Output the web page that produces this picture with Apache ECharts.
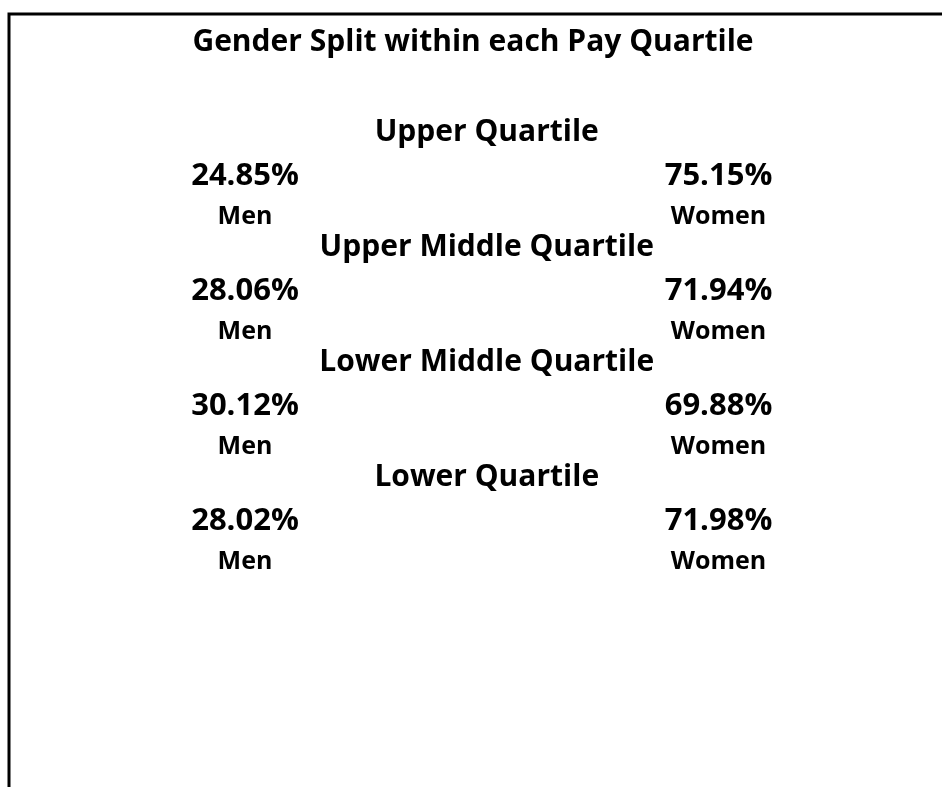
<!DOCTYPE html>
<html>
<head>
<meta charset="utf-8">
<script src="https://cdn.jsdelivr.net/npm/echarts@6/dist/echarts.min.js"></script>
<style>
html,body{margin:0;padding:0;background:#fff;}
#chart{width:942px;height:787px;}
</style>
</head>
<body>
<div id="chart"></div>
<script>
const chartTitle = 'Gender Split within each Pay Quartile';
const quartiles = ['Upper Quartile', 'Upper Middle Quartile', 'Lower Middle Quartile', 'Lower Quartile'];
const menPct = [24.85, 28.06, 30.12, 28.02];
const womenPct = [75.15, 71.94, 69.88, 71.98];
const groupNames = ['Men', 'Women'];

const FONT = '"Open Sans"';

const chart = echarts.init(document.getElementById('chart'), null, {renderer: 'canvas'});

function pctSeries(name, xPos, values) {
  return {
    type: 'scatter',
    name: name,
    symbolSize: 0,
    silent: true,
    itemStyle: {opacity: 1},
    data: values.map((v, i) => [xPos, quartiles[i], v]),
    label: {
      show: true,
      position: 'inside',
      color: '#000',
      opacity: 1,
      textBorderWidth: 0,
      formatter: p => '{p|' + p.value[2].toFixed(2) + '%}\n{g|' + name + '}',
      rich: {
        p: {fontFamily: FONT, fontWeight: 'bold', fontSize: 31, color: '#000', lineHeight: 42, align: 'center'},
        g: {fontFamily: FONT, fontWeight: 'bold', fontSize: 25, color: '#000', lineHeight: 38, align: 'center'}
      },
      offset: [0, 20]
    }
  };
}

const option = {
  backgroundColor: '#fff',
  animation: false,
  title: {
    text: chartTitle,
    left: 468,
    textAlign: 'center',
    top: 22,
    textStyle: {fontFamily: FONT, fontWeight: 'bold', fontSize: 30, color: '#000'}
  },
  grid: {left: 245, right: 942 - 718.5, top: 118, height: 460},
  xAxis: {type: 'value', min: 0, max: 1, show: false},
  yAxis: {type: 'category', data: quartiles, inverse: true, show: false},
  graphic: [{
    type: 'polyline',
    shape: {points: [[9, 787], [9, 14], [942, 14]]},
    style: {stroke: '#000', lineWidth: 3, fill: null},
    silent: true
  }],
  series: [
    {
      type: 'scatter',
      name: 'Quartile',
      symbolSize: 0,
      silent: true,
      itemStyle: {opacity: 1},
      data: quartiles.map(q => [0.5, q]),
      label: {
        show: true,
        position: 'inside',
        formatter: p => p.value[1],
        fontFamily: FONT, fontWeight: 'bold', fontSize: 30, color: '#000',
        opacity: 1,
        textBorderWidth: 0,
        offset: [5, -43]
      }
    },
    pctSeries(groupNames[0], 0, menPct),
    pctSeries(groupNames[1], 1, womenPct)
  ]
};
chart.setOption(option);
</script>
</body>
</html>
